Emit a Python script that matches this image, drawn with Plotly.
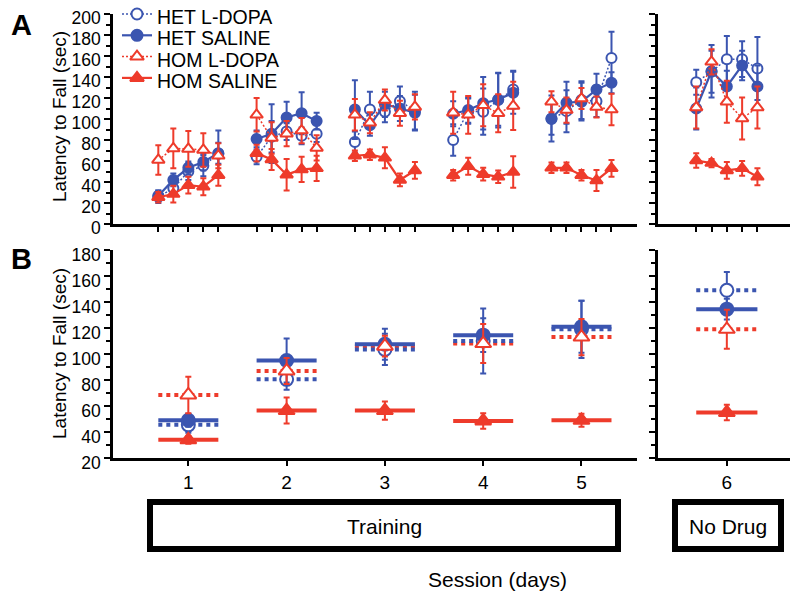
import plotly.graph_objects as go

# ---------------- data ----------------
days = [1, 2, 3, 4, 5, 6]
trials = [1, 2, 3, 4, 5]
day_labels = ["1", "2", "3", "4", "5", "6"]
series_names = ["HET L-DOPA", "HET SALINE", "HOM L-DOPA", "HOM SALINE"]

# Panel A: per-trial means (rows = days 1..6, cols = trials 1..5)
het_ldopa_a = [[26, 34, 50, 55.5, 67], [64, 83, 88, 84, 86], [78, 109, 107, 117, 108],
               [80, 107.5, 107, 118, 128], [100, 107.5, 118, 117, 158], [135, 145, 157, 157, 148]]
het_saline_a = [[27, 42, 53.5, 59, 67.5], [81, 86, 101.5, 105.5, 98], [109, 94, 114, 110, 106],
                [105, 108.5, 115, 118.5, 125], [100.5, 115.5, 116.5, 128, 134.5], [110, 145.5, 131, 151, 131]]
hom_ldopa_a = [[61, 72, 71.5, 70.5, 65], [104, 82, 86, 89, 72.5], [104, 96.5, 118, 105.5, 111.5],
               [106, 104, 113, 105.5, 112.5], [116.5, 108.5, 119.5, 111.5, 109], [111, 154.5, 116.5, 100.5, 111]]
hom_saline_a = [[25.5, 28.5, 37, 35.5, 46.5], [67.5, 61.5, 47, 52, 53], [65, 66, 63, 42, 51],
                [46.5, 55, 47.5, 45, 49.5], [53.5, 53.5, 46.5, 41.5, 53], [60.5, 58, 51, 53, 45]]

het_ldopa_a_err = [[6, 6, 8, 10, 22], [7, 15, 8, 8, 8], [10, 17, 10, 14, 18],
                   [15, 12, 22, 26, 18], [15, 20, 18, 15, 25], [12, 20, 22, 17, 30]]
het_saline_a_err = [[5, 6, 6, 8, 10], [8, 28, 15, 20, 8], [28, 10, 12, 12, 17],
                    [12, 12, 25, 25, 20], [22, 20, 18, 15, 10], [20, 25, 15, 14, 20]]
hom_ldopa_a_err = [[14, 19, 17, 16, 12], [16, 15, 12, 12, 12], [15, 10, 10, 12, 12],
                   [20, 18, 20, 18, 23], [10, 12, 10, 10, 15], [20, 12, 20, 20, 20]]
hom_saline_a_err = [[5, 8, 8, 8, 10], [8, 10, 15, 12, 12], [5, 5, 10, 6, 8],
                    [5, 8, 6, 6, 15], [5, 5, 5, 10, 8], [7, 4, 8, 7, 8]]

# Panel B: per-day means
het_ldopa_b = [45.5, 80.5, 103.5, 110, 119, 149]
het_saline_b = [49, 95, 107.5, 114.5, 121, 134.5]
hom_ldopa_b = [68.5, 87, 106, 108, 113, 119]
hom_saline_b = [34, 56.5, 56.5, 48.5, 49, 55]
het_ldopa_b_err = [6, 8, 12, 25, 22, 14]
het_saline_b_err = [5, 17, 12, 13, 20, 8]
hom_ldopa_b_err = [14, 10, 8, 15, 14, 15]
hom_saline_b_err = [3, 10, 7, 6, 5, 6]

# ---------------- styling ----------------
BLUE = "#3b55b0"
RED = "#ee3b2b"
FONT = "Liberation Sans, Arial, sans-serif"
NARROW = "Liberation Sans Narrow, Liberation Sans, Arial, sans-serif"
DAY_STEP = 6.55
W, H = 800, 600


def px(x):
    return x / W


def py(y):
    return 1 - y / H


def xpos(day, trial):
    if day <= 5:
        return (day - 1) * DAY_STEP + (trial - 1)
    return trial - 1


styles = [
    dict(color=BLUE, symbol="circle", open=True, dash="2px,2px", width=1.5, bdash="dot"),
    dict(color=BLUE, symbol="circle", open=False, dash="solid", width=2.2, bdash="solid"),
    dict(color=RED, symbol="triangle-up", open=True, dash="2px,2px", width=1.5, bdash="dot"),
    dict(color=RED, symbol="triangle-up", open=False, dash="solid", width=2.2, bdash="solid"),
]
a_data = [het_ldopa_a, het_saline_a, hom_ldopa_a, hom_saline_a]
a_err = [het_ldopa_a_err, het_saline_a_err, hom_ldopa_a_err, hom_saline_a_err]
b_data = [het_ldopa_b, het_saline_b, hom_ldopa_b, hom_saline_b]
b_err = [het_ldopa_b_err, het_saline_b_err, hom_ldopa_b_err, hom_saline_b_err]


def marker(st, size):
    return dict(symbol=st["symbol"], size=size,
                color="white" if st["open"] else st["color"],
                line=dict(color=st["color"], width=2))


def text(fig, s, x, y, size, family=FONT, angle=0, xanchor="center"):
    fig.add_annotation(text=s, xref="paper", yref="paper", x=px(x), y=py(y), xanchor=xanchor,
                       yanchor="middle", textangle=angle, showarrow=False,
                       font=dict(family=family, size=size, color="black"))


fig = go.Figure()

# Panel A traces
for si, name in enumerate(series_names):
    st = styles[si]
    msize = 10 if st["symbol"] == "circle" else 11
    for dlist, xa, ya in [(days[:5], "x", "y"), (days[5:], "x2", "y2")]:
        xs, ys, es = [], [], []
        for d in dlist:
            for t in trials:
                xs.append(xpos(d, t))
                ys.append(a_data[si][d - 1][t - 1])
                es.append(a_err[si][d - 1][t - 1])
            xs.append(None); ys.append(None); es.append(None)
        fig.add_trace(go.Scatter(
            x=xs, y=ys, xaxis=xa, yaxis=ya, mode="lines+markers",
            name=name, showlegend=False,
            line=dict(color=st["color"], width=st["width"], dash=st["dash"]),
            marker=marker(st, msize),
            error_y=dict(type="data", array=es, color=st["color"], thickness=2, width=3),
        ))

# Panel B: mean lines then markers
for si in [3, 2, 0, 1]:
    st = styles[si]
    for dlist, xa, ya in [(days[:5], "x3", "y3"), (days[5:], "x4", "y4")]:
        xs, ys = [], []
        for d in dlist:
            c = xpos(d, 3)
            xs += [c - 2, c + 2, None]
            ys += [b_data[si][d - 1], b_data[si][d - 1], None]
        fig.add_trace(go.Scatter(
            x=xs, y=ys, xaxis=xa, yaxis=ya, mode="lines", showlegend=False, hoverinfo="skip",
            line=dict(color=st["color"], width=4, dash=st["bdash"]),
        ))
for si in range(4):
    st = styles[si]
    msize = 13 if st["symbol"] == "circle" else 14
    for dlist, xa, ya in [(days[:5], "x3", "y3"), (days[5:], "x4", "y4")]:
        fig.add_trace(go.Scatter(
            x=[xpos(d, 3) for d in dlist], y=[b_data[si][d - 1] for d in dlist],
            xaxis=xa, yaxis=ya, mode="markers", showlegend=False,
            marker=marker(st, msize),
            error_y=dict(type="data", array=[b_err[si][d - 1] for d in dlist],
                         color=st["color"], thickness=2, width=3),
        ))

# Legend drawn on an overlay axis spanning the figure in pixel units
LEG_X0, LEG_X1, LEG_Y0, LEG_DY = 122, 152, 14, 21.3
for si, name in enumerate(series_names):
    st = styles[si]
    yy = LEG_Y0 + si * LEG_DY
    fig.add_trace(go.Scatter(
        x=[LEG_X0, LEG_X1], y=[yy, yy], xaxis="x5", yaxis="y5",
        mode="lines", showlegend=False, hoverinfo="skip",
        line=dict(color=st["color"], width=st["width"], dash=st["dash"]),
    ))
    fig.add_trace(go.Scatter(
        x=[(LEG_X0 + LEG_X1) / 2], y=[yy], xaxis="x5", yaxis="y5",
        mode="markers", showlegend=False, hoverinfo="skip",
        marker=marker(st, 11 if st["symbol"] == "circle" else 12),
    ))
    text(fig, name, 155, yy + 3, 19.5, xanchor="left")

# ---------------- axes ----------------
L_DOM = [px(113), px(637)]
R_DOM = [px(658), px(790)]
A_DOM = [py(224), py(14)]
B_DOM = [py(458), py(250)]
LX_RANGE = [-3.02, 31.9]
RX_RANGE = [-2.5, 6.13]

common_y = dict(showline=True, linecolor="black", linewidth=2.5, ticks="outside", ticklen=6,
                tickwidth=2, tickcolor="black", showgrid=False, zeroline=False, automargin=False,
                tickfont=dict(family=FONT, size=17.5, color="black"),
                minor=dict(ticks="outside", ticklen=4, tickwidth=1.5, tickcolor="black", dtick=10))
common_x = dict(showline=True, linecolor="black", linewidth=2.5, ticks="outside", ticklen=5,
                tickwidth=2, tickcolor="black", showgrid=False, zeroline=False, automargin=False)

a_ticks_left = [xpos(d, t) for d in days[:5] for t in trials]
a_ticks_right = [xpos(6, t) for t in trials]
b_ticks_left = [xpos(d, 3) for d in days[:5]]
b_ticks_right = [xpos(6, 3)]

fig.update_layout(
    template="none",
    width=W, height=H, margin=dict(l=0, r=0, t=0, b=0, autoexpand=False),
    plot_bgcolor="rgba(0,0,0,0)", paper_bgcolor="white", showlegend=False,
    xaxis=dict(domain=L_DOM, anchor="y", range=LX_RANGE, tickvals=a_ticks_left, showticklabels=False, **common_x),
    yaxis=dict(domain=A_DOM, anchor="x", range=[0, 200], dtick=20, ticklabelshift=4, **common_y),
    xaxis2=dict(domain=R_DOM, anchor="y2", range=RX_RANGE, tickvals=a_ticks_right, showticklabels=False, **common_x),
    yaxis2=dict(domain=A_DOM, anchor="x2", range=[0, 200], dtick=20, showticklabels=False, **common_y),
    xaxis3=dict(domain=L_DOM, anchor="y3", range=LX_RANGE, tickvals=b_ticks_left, ticktext=day_labels[:5],
                tickfont=dict(family=NARROW, size=19, color="black"), **common_x),
    yaxis3=dict(domain=B_DOM, anchor="x3", range=[20, 180], dtick=20, ticklabelshift=5, **common_y),
    xaxis4=dict(domain=R_DOM, anchor="y4", range=RX_RANGE, tickvals=b_ticks_right, ticktext=day_labels[5:],
                tickfont=dict(family=NARROW, size=19, color="black"), **common_x),
    yaxis4=dict(domain=B_DOM, anchor="x4", range=[20, 180], dtick=20, showticklabels=False, **common_y),
    xaxis5=dict(domain=[0, 1], anchor="y5", range=[0, W], visible=False, fixedrange=True, automargin=False),
    yaxis5=dict(domain=[0, 1], anchor="x5", range=[H, 0], visible=False, fixedrange=True, automargin=False),
)

# axis titles, boxes and annotations
for yc in [117, 354]:
    text(fig, "Latency to Fall (sec)", 59, yc, 19, angle=-90)
fig.add_shape(type="rect", xref="paper", yref="paper", x0=px(150), x1=px(618), y0=py(549), y1=py(502),
              line=dict(color="black", width=6), fillcolor="rgba(0,0,0,0)")
fig.add_shape(type="rect", xref="paper", yref="paper", x0=px(675), x1=px(781), y0=py(549), y1=py(502),
              line=dict(color="black", width=6), fillcolor="rgba(0,0,0,0)")
text(fig, "Training", 384, 526, 21, NARROW)
text(fig, "No Drug", 728, 526, 21, NARROW)
text(fig, "Session (days)", 497, 579, 21, NARROW)
text(fig, "<b>A</b>", 21, 25, 29)
text(fig, "<b>B</b>", 21, 259, 29)

fig.write_html("out.html", config={"displayModeBar": False},
               post_script="document.body.style.margin='0';document.body.style.overflow='hidden';")
